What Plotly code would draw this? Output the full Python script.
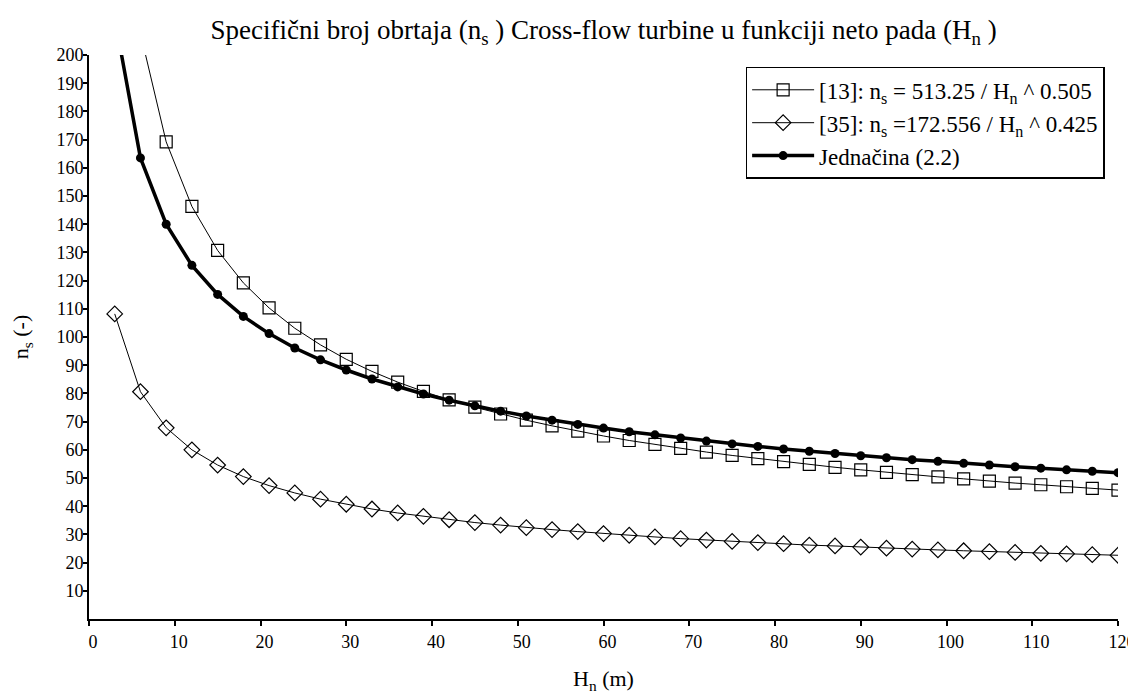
import plotly.graph_objects as go

# Net head H_n (m)
head = [3, 6, 9, 12, 15, 18, 21, 24, 27, 30, 33, 36, 39, 42, 45, 48, 51, 54, 57, 60,
        63, 66, 69, 72, 75, 78, 81, 84, 87, 90, 93, 96, 99, 102, 105, 108, 111, 114, 117, 120]

# [13]: ns = 513.25 / Hn^0.505
ns_ref13 = [294.7, 207.7, 169.2, 146.3, 130.7, 119.2, 110.3, 103.1, 97.2, 92.1,
            87.8, 84.0, 80.7, 77.7, 75.1, 72.7, 70.5, 68.5, 66.6, 64.9,
            63.3, 61.9, 60.5, 59.2, 58.0, 56.9, 55.8, 54.8, 53.8, 52.9,
            52.0, 51.2, 50.4, 49.7, 48.9, 48.2, 47.6, 46.9, 46.3, 45.7]

# [35]: ns = 172.556 / Hn^0.425
ns_ref35 = [108.2, 80.6, 67.8, 60.0, 54.6, 50.5, 47.3, 44.7, 42.5, 40.7,
            39.0, 37.6, 36.4, 35.2, 34.2, 33.3, 32.4, 31.7, 31.0, 30.3,
            29.7, 29.1, 28.5, 28.0, 27.5, 27.1, 26.7, 26.2, 25.9, 25.5,
            25.1, 24.8, 24.5, 24.2, 23.9, 23.6, 23.3, 23.1, 22.8, 22.6]

# Jednačina (2.2)
ns_eq22 = [213.2, 163.5, 140.0, 125.4, 115.1, 107.3, 101.2, 96.1, 91.9, 88.3,
           85.1, 82.3, 79.8, 77.6, 75.6, 73.7, 72.0, 70.5, 69.0, 67.7,
           66.4, 65.3, 64.2, 63.1, 62.1, 61.2, 60.3, 59.5, 58.7, 57.9,
           57.2, 56.5, 55.9, 55.2, 54.6, 54.0, 53.5, 52.9, 52.4, 51.9]

x_ticks = [0, 10, 20, 30, 40, 50, 60, 70, 80, 90, 100, 110, 120]
y_ticks = [10, 20, 30, 40, 50, 60, 70, 80, 90, 100, 110, 120, 130, 140, 150,
           160, 170, 180, 190, 200]

FONT = "Liberation Serif"

fig = go.Figure()
fig.add_trace(go.Scatter(
    x=head, y=ns_ref13, mode="lines+markers",
    name="[13]: n<sub>s</sub> = 513.25 / H<sub>n</sub> ^ 0.505",
    line=dict(color="black", width=1),
    marker=dict(symbol="square-open", size=12, color="black", line=dict(width=1.2)),
))
fig.add_trace(go.Scatter(
    x=head, y=ns_ref35, mode="lines+markers",
    name="[35]: n<sub>s</sub> =172.556 / H<sub>n</sub> ^ 0.425",
    line=dict(color="black", width=1),
    marker=dict(symbol="diamond-open", size=12, color="black", line=dict(width=1.2)),
))
fig.add_trace(go.Scatter(
    x=head, y=ns_eq22, mode="lines+markers",
    name="Jednačina (2.2)",
    line=dict(color="black", width=3.5),
    marker=dict(symbol="circle", size=9, color="black"),
))

fig.update_layout(
    width=1128, height=686,
    paper_bgcolor="white", plot_bgcolor="white",
    margin=dict(l=81, r=18, t=47, b=75, autoexpand=False),
    font=dict(family=FONT, color="black", size=18),
    title=dict(
        text="Specifični broj obrtaja (n<sub>s</sub> ) Cross-flow turbine u funkciji neto pada (H<sub>n</sub> )",
        x=0.528, xanchor="center", y=0.968, yanchor="middle",
        font=dict(family=FONT, size=27, color="black"),
    ),
    showlegend=True,
    legend=dict(
        x=0.987, xanchor="right", y=0.979, yanchor="top",
        bgcolor="white", bordercolor="black", borderwidth=1.5,
        font=dict(family=FONT, size=23, color="black"),
        itemwidth=62, tracegroupgap=0,
    ),
    xaxis=dict(
        range=[0, 120], tickvals=x_ticks, ticktext=[str(v) for v in x_ticks],
        showgrid=False, zeroline=False, showline=True, linecolor="black", linewidth=2,
        ticks="outside", ticklen=5, tickwidth=2, tickcolor="black",
        ticklabelshift=4,
        tickfont=dict(family=FONT, size=18, color="black"),
        title=dict(text="H<sub>n</sub> (m)", font=dict(family=FONT, size=22, color="black"), standoff=22),
        automargin=False,
    ),
    yaxis=dict(
        range=[0, 200], tickvals=y_ticks, ticktext=[str(v) for v in y_ticks],
        showgrid=False, zeroline=False, showline=True, linecolor="black", linewidth=2,
        ticks="outside", ticklen=4, tickwidth=2, tickcolor="black",
        ticklabelstandoff=-4,
        tickfont=dict(family=FONT, size=18, color="black"),
        title=dict(text="n<sub>s</sub> (-)", font=dict(family=FONT, size=22, color="black"), standoff=28),
        automargin=False,
    ),
)

fig.write_html("out.html")
